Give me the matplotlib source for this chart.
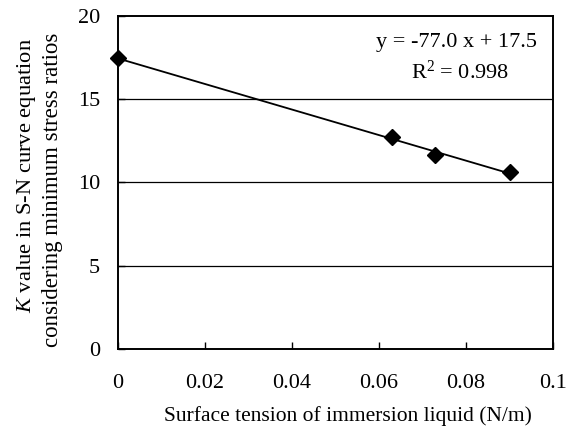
import matplotlib
matplotlib.use("Agg")
import matplotlib.pyplot as plt
import numpy as np

plt.rcParams['font.family'] = ['Liberation Serif', 'DejaVu Serif']
plt.rcParams['mathtext.fontset'] = 'custom'
plt.rcParams['mathtext.rm'] = 'Liberation Serif'
plt.rcParams['mathtext.it'] = 'Liberation Serif:italic'

surface_tension = [0.0, 0.0631, 0.0728, 0.0900]
k_value = [17.45, 12.75, 11.65, 10.62]
x_ticks = [0, 0.02, 0.04, 0.06, 0.08, 0.1]
x_tick_labels = ['0', '0.02', '0.04', '0.06', '0.08', '0.1']
y_ticks = [0, 5, 10, 15, 20]

W, H = 575, 434
fig = plt.figure(figsize=(W / 100, H / 100), dpi=100)
ax = fig.add_axes([118 / W, 1 - 349 / H, 435 / W, 333 / H])

coef = np.polyfit(surface_tension, k_value, 1)
xs = np.array([min(surface_tension), max(surface_tension)])
ax.plot(xs, np.polyval(coef, xs), color='black', lw=1.3, zorder=3)
ax.plot(surface_tension, k_value, linestyle='none', marker='D', color='black',
        markersize=8, zorder=4, clip_on=False)

ax.set_xlim(0, 0.1)
ax.set_ylim(0, 20)
ax.set_xticks(x_ticks)
ax.set_xticklabels(x_tick_labels)
ax.set_yticks(y_ticks)
for yv in [5, 10, 15]:
    ax.axhline(yv, color='black', lw=0.9, zorder=1)
ax.tick_params(direction='in', length=5, width=1, labelsize=16, colors='black')
ax.tick_params(axis='x', pad=18)
ax.tick_params(axis='y', pad=13)
for s in ax.spines.values():
    s.set_linewidth(1.4)

fig.text(347.5 / W, 1 - 416 / H, 'Surface tension of immersion liquid (N/m)',
         fontsize=15.5, ha='center', va='center')
fig.text(27 / W, 1 - 176 / H, '$K$ value in S-N curve equation',
         fontsize=16.2, rotation=90, ha='center', va='center')
fig.text(53 / W, 1 - 190 / H, 'considering minimum stress ratios',
         fontsize=16.5, rotation=90, ha='center', va='center')

fig.text(456 / W, 1 - 43 / H, 'y = -77.0 x + 17.5', ha='center', va='center',
         fontsize=16)
fig.text(460 / W, 1 - 72 / H, 'R$^2$ = 0.998', ha='center', va='center',
         fontsize=16)

fig.savefig('out.png', dpi=100)
